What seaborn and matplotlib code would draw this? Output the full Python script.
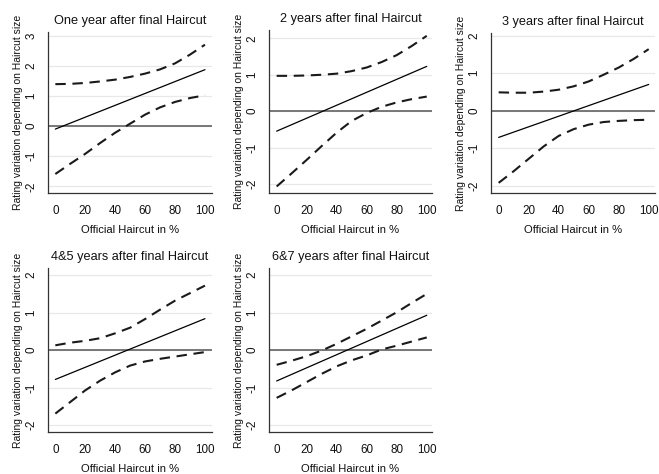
import numpy as np
import pandas as pd
import matplotlib
matplotlib.use("Agg")
import matplotlib.pyplot as plt
import seaborn as sns

# values
haircut = [0, 10, 20, 30, 40, 50, 60, 70, 80, 90, 100]
est_x = [0, 100]

titles = ["One year after final Haircut", "2 years after final Haircut",
          "3 years after final Haircut", "4&5 years after final Haircut",
          "6&7 years after final Haircut"]

est_1 = [-0.10, 1.87]
up_1 = [1.39, 1.40, 1.43, 1.48, 1.54, 1.63, 1.74, 1.88, 2.08, 2.37, 2.70]
lo_1 = [-1.59, -1.25, -0.92, -0.56, -0.22, 0.08, 0.38, 0.62, 0.80, 0.93, 1.02]

est_2 = [-0.55, 1.23]
up_2 = [0.97, 0.97, 0.98, 1.00, 1.03, 1.10, 1.20, 1.35, 1.54, 1.79, 2.07]
lo_2 = [-2.07, -1.71, -1.34, -0.96, -0.59, -0.27, -0.05, 0.12, 0.24, 0.33, 0.40]

est_3 = [-0.71, 0.70]
up_3 = [0.49, 0.48, 0.48, 0.51, 0.56, 0.65, 0.78, 0.96, 1.15, 1.38, 1.64]
lo_3 = [-1.92, -1.61, -1.28, -0.95, -0.67, -0.49, -0.37, -0.30, -0.27, -0.25, -0.24]

est_4 = [-0.78, 0.84]
up_4 = [0.13, 0.20, 0.25, 0.32, 0.45, 0.60, 0.83, 1.08, 1.32, 1.52, 1.72]
lo_4 = [-1.69, -1.38, -1.07, -0.81, -0.59, -0.41, -0.30, -0.23, -0.17, -0.11, -0.05]

est_5 = [-0.82, 0.93]
up_5 = [-0.39, -0.28, -0.16, -0.01, 0.17, 0.37, 0.57, 0.79, 1.01, 1.26, 1.50]
lo_5 = [-1.27, -1.07, -0.85, -0.63, -0.43, -0.27, -0.14, 0.02, 0.12, 0.23, 0.34]

ests = [est_1, est_2, est_3, est_4, est_5]
ups = [up_1, up_2, up_3, up_4, up_5]
los = [lo_1, lo_2, lo_3, lo_4, lo_5]
yticks = [[-2, -1, 0, 1, 2, 3]] + [[-2, -1, 0, 1, 2]] * 4

sns.set_style("white")
plt.rcParams['font.family'] = ['Liberation Sans', 'DejaVu Sans']
plt.rcParams['axes.unicode_minus'] = False

W, H = 659, 474
fig = plt.figure(figsize=(W / 100, H / 100), dpi=100)

# panel boxes in pixels: left, top, right, bottom ; and limits
boxes = [(48, 32, 212, 193), (269, 30, 432, 193), (491, 33, 655, 193),
         (48, 268, 212, 432), (269, 268, 432, 432)]
xlims = [(-4.9, 104.7), (-5.1, 103.5), (-5.1, 104.2), (-4.9, 104.7), (-5.1, 103.5)]
ylims = [(-2.22, 3.12), (-2.25, 2.23), (-2.19, 2.07), (-2.18, 2.19), (-2.18, 2.19)]

for i in range(5):
    l, t, r, b = boxes[i]
    ax = fig.add_axes([l / W, 1 - b / H, (r - l) / W, (b - t) / H])

    for yt in yticks[i]:
        ax.axhline(yt, color="#e8e8e8", lw=0.9, zorder=0)
    ax.axhline(0, color="#6e6e6e", lw=1.3, zorder=1)

    sns.lineplot(x=est_x, y=ests[i], ax=ax, color="black", lw=0.9)
    sns.lineplot(x=haircut, y=ups[i], ax=ax, color="#1a1a1a", lw=1.5,
                 linestyle=(0, (5, 3.2)))
    sns.lineplot(x=haircut, y=los[i], ax=ax, color="#1a1a1a", lw=1.5,
                 linestyle=(0, (5, 3.2)))

    ax.set_xlim(xlims[i])
    ax.set_ylim(ylims[i])
    ax.set_xticks([0, 20, 40, 60, 80, 100])
    ax.set_yticks(yticks[i])
    ax.tick_params(axis="both", labelsize=8.4, width=0.8, color="#555555",
                   direction="out", labelcolor="#111111")
    ax.tick_params(axis="x", length=3.8, pad=4.5)
    ax.tick_params(axis="y", length=4.3, pad=3.2)
    for lab in ax.get_yticklabels():
        lab.set_rotation(90)
        lab.set_va("center")

    for s in ["top", "right"]:
        ax.spines[s].set_visible(False)
    for s in ["left", "bottom"]:
        ax.spines[s].set_color("#333333")
        ax.spines[s].set_linewidth(0.9)

    ax.set_title(titles[i], fontsize=9.2, pad=6, color="#111111")
    ax.set_xlabel("Official Haircut in %", fontsize=8.1, labelpad=6,
                  color="#111111")
    ax.set_ylabel("Rating variation depending on Haircut size", fontsize=7.5,
                  color="#111111")
    ax.yaxis.set_label_coords(-25 / (r - l), 0.5)

fig.savefig("out.png", dpi=100, facecolor="white")
